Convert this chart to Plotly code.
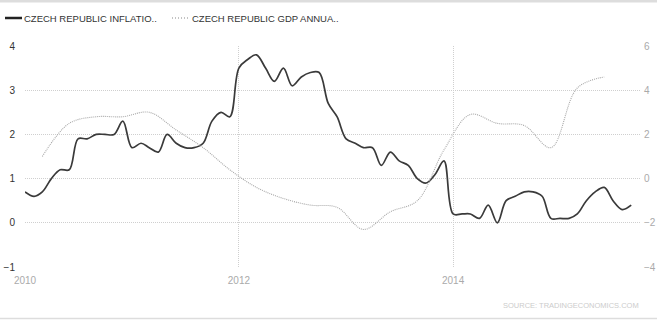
import plotly.graph_objects as go

# Czech Republic inflation rate (%, y/y), monthly, Jan 2010 - Sep 2015
inflation_dates = [f"{y}-{m:02d}-01" for y in range(2010, 2016) for m in range(1, 13)][:69]
inflation_values = [
    0.7, 0.6, 0.7, 1.0, 1.2, 1.2, 1.9, 1.9, 2.0, 2.0, 2.0, 2.3,   # 2010
    1.7, 1.8, 1.7, 1.6, 2.0, 1.8, 1.7, 1.7, 1.8, 2.3, 2.5, 2.4,   # 2011
    3.5, 3.7, 3.8, 3.5, 3.2, 3.5, 3.1, 3.3, 3.4, 3.4, 2.7, 2.4,   # 2012
    1.9, 1.8, 1.7, 1.7, 1.3, 1.6, 1.4, 1.3, 1.0, 0.9, 1.1, 1.4,   # 2013
    0.2, 0.2, 0.2, 0.1, 0.4, 0.0, 0.5, 0.6, 0.7, 0.7, 0.6, 0.1,   # 2014
    0.1, 0.1, 0.2, 0.5, 0.7, 0.8, 0.5, 0.3, 0.4,                  # 2015
]

# Czech Republic GDP annual growth rate (%), quarterly, Q1 2010 - Q2 2015
gdp_dates = [f"{y}-{m:02d}-01" for y in range(2010, 2016) for m in (3, 6, 9, 12)][:22]
gdp_values = [
    1.0, 2.5, 2.8, 2.8,
    3.0, 2.2, 1.4, 0.4,
    -0.4, -0.9, -1.2, -1.3,
    -2.3, -1.5, -1.0, 1.3,
    2.9, 2.5, 2.4, 1.4,
    4.1, 4.6,
]

left_ticks = [-1, 0, 1, 2, 3, 4]
right_ticks = [-4, -2, 0, 2, 4, 6]
year_ticks = ["2010-01-01", "2012-01-01", "2014-01-01"]
year_labels = ["2010", "2012", "2014"]

inflation_name = "CZECH REPUBLIC INFLATIO.."
gdp_name = "CZECH REPUBLIC GDP ANNUA.."
source_text = "SOURCE: TRADINGECONOMICS.COM"

W, H = 657, 322
L, R, T, B = 25, 640, 46, 267   # plot area in pixels


def px(x):
    return (x - L) / (R - L)


def py(y):
    return (B - y) / (B - T)


fig = go.Figure()
fig.add_trace(go.Scatter(
    x=inflation_dates, y=inflation_values, name=inflation_name,
    mode="lines", line=dict(color="#3a3a3a", width=1.7, shape="spline", smoothing=1.0),
    yaxis="y", showlegend=False,
))
fig.add_trace(go.Scatter(
    x=gdp_dates, y=gdp_values, name=gdp_name,
    mode="lines", line=dict(color="#a8a8a8", width=1.1, dash="1px,1px", shape="spline", smoothing=1.0),
    yaxis="y2", showlegend=False,
))

grid = dict(showgrid=True, gridcolor="#cfcfcf", griddash="1px,1px", gridwidth=1,
            zeroline=False, showline=False, automargin=False)

fig.update_layout(
    width=W, height=H,
    margin=dict(l=L, r=W - R, t=T, b=H - B, pad=0),
    paper_bgcolor="white", plot_bgcolor="white",
    font=dict(family="Liberation Sans, Arial, sans-serif"),
    xaxis=dict(
        range=["2010-01-01", "2015-10-01"], tickvals=year_ticks, ticktext=year_labels,
        tickfont=dict(size=10, color="#aaaaaa"), ticks="", ticklabelstandoff=6, **grid,
    ),
    yaxis=dict(
        range=[-1, 4], tickvals=left_ticks, tickfont=dict(size=10, color="#333333"),
        ticks="", ticklabelstandoff=9, **grid,
    ),
    yaxis2=dict(
        range=[-4, 6], tickvals=right_ticks, overlaying="y", side="right",
        tickfont=dict(size=10, color="#aaaaaa"), ticks="", showgrid=False, zeroline=False,
        ticklabelstandoff=3, automargin=False,
    ),
)

# Legend drawn as line samples plus labels
shapes = [
    dict(type="line", xref="paper", yref="paper", x0=px(5), x1=px(22), y0=py(18), y1=py(18),
         line=dict(color="#222222", width=2.5)),
    dict(type="line", xref="paper", yref="paper", x0=px(172), x1=px(189), y0=py(18), y1=py(18),
         line=dict(color="#888888", width=1.2, dash="1px,2px")),
    # frame bands at top and bottom
    dict(type="rect", xref="paper", yref="paper", x0=px(0), x1=px(W), y0=py(2.5), y1=py(0),
         fillcolor="#dddddd", line=dict(width=0), layer="below"),
    dict(type="line", xref="paper", yref="paper", x0=px(0), x1=px(W), y0=py(318.5), y1=py(318.5),
         line=dict(color="#dddddd", width=1.5)),
]
annotations = [
    dict(text=inflation_name, xref="paper", yref="paper", x=px(22), y=py(18), xanchor="left",
         yanchor="middle", showarrow=False, font=dict(size=9.5, color="#333333")),
    dict(text=gdp_name, xref="paper", yref="paper", x=px(190), y=py(18), xanchor="left",
         yanchor="middle", showarrow=False, font=dict(size=9.5, color="#333333")),
    dict(text=source_text, xref="paper", yref="paper", x=px(641), y=py(305), xanchor="right",
         yanchor="middle", showarrow=False, font=dict(size=7.5, color="#cccccc")),
]
fig.update_layout(shapes=shapes, annotations=annotations)

fig.write_html("out.html")
